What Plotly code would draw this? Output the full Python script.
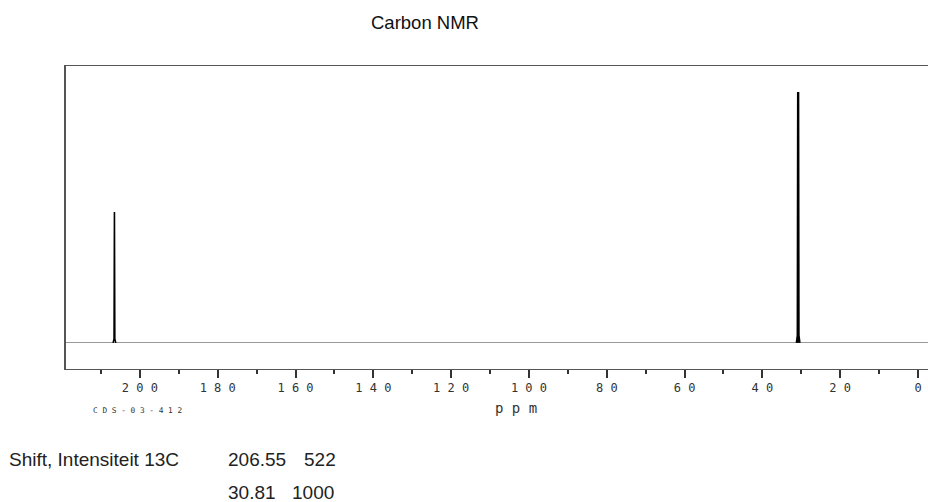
import plotly.graph_objects as go

# ---- data ----
shifts = [206.55, 30.81]          # ppm
intensities = [522, 1000]         # relative intensity
tick_values = [200, 180, 160, 140, 120, 100, 80, 60, 40, 20, 0]
tick_labels = ["2 0 0", "1 8 0", "1 6 0", "1 4 0", "1 2 0", "1 0 0", "8 0", "6 0", "4 0", "2 0", "0"]
title_text = "Carbon NMR"
x_label = "p p m"
sample_id = "C D S - 0 3 - 4 1 2"
table_label = "Shift, Intensiteit 13C"

W, H = 928, 502
L, R, T, B = 66, 0, 66, 133
PW, PH = W - L - R, H - T - B

def px(x):
    return (x - L) / PW

def py(y):
    return (H - B - y) / PH

fig = go.Figure()

# peaks (stick spectrum with narrow foot)
for s, inten, w in zip(shifts, intensities, [1.6, 2.4]):
    xs = [s + 0.35, s + 0.1, s, s - 0.1, s - 0.35]
    ys = [0, inten * 0.03, inten, inten * 0.03, 0]
    fig.add_trace(go.Scatter(x=xs, y=ys, mode="lines",
                             line=dict(color="black", width=w),
                             hoverinfo="skip", showlegend=False))

fig.update_layout(
    width=W, height=H,
    margin=dict(l=L, r=R, t=T, b=B, pad=0),
    paper_bgcolor="white", plot_bgcolor="white",
    showlegend=False,
    xaxis=dict(
        range=[219.0, -2.57], autorange=False,
        tickmode="array", tickvals=tick_values, ticktext=tick_labels,
        ticks="outside", ticklen=8, tickwidth=1.5, tickcolor="#333",
        minor=dict(dtick=10, tick0=0, ticks="outside", ticklen=4, tickwidth=1.5, tickcolor="#333"),
        showline=True, linecolor="#555", linewidth=1, mirror=True,
        showgrid=False, zeroline=False,
        tickfont=dict(family="DejaVu Sans Mono", size=12, color="#333"),
    ),
    yaxis=dict(
        range=[-104, 1104], autorange=False,
        showticklabels=False, ticks="",
        showline=True, linecolor="#555", linewidth=1.5, mirror=False,
        showgrid=False,
        zeroline=True, zerolinecolor="#999", zerolinewidth=1,
    ),
)

annots = [
    dict(x=px(425), y=py(22), text=title_text, xanchor="center", yanchor="middle",
         font=dict(family="Liberation Sans", size=18.5, color="#111")),
    dict(x=px(516), y=py(408), text=x_label, xanchor="center", yanchor="middle",
         font=dict(family="DejaVu Sans Mono", size=14, color="#333")),
    dict(x=px(91), y=py(410), text=sample_id, xanchor="left", yanchor="middle",
         font=dict(family="DejaVu Sans Mono", size=7.8, color="#333")),
    dict(x=px(7), y=py(459), text=table_label, xanchor="left", yanchor="middle",
         font=dict(family="Liberation Sans", size=19, color="#222")),
]
row_y = [459, 492]
int_x = [302, 290]
for s, inten, yy, ix in zip(shifts, intensities, row_y, int_x):
    annots.append(dict(x=px(226), y=py(yy), text=f"{s:.2f}", xanchor="left", yanchor="middle",
                       font=dict(family="Liberation Sans", size=19, color="#222")))
    annots.append(dict(x=px(ix), y=py(yy), text=f"{inten}", xanchor="left", yanchor="middle",
                       font=dict(family="Liberation Sans", size=19, color="#222")))
for a in annots:
    a.update(xref="paper", yref="paper", showarrow=False)
fig.update_layout(annotations=annots)

fig.write_html("out.html")
